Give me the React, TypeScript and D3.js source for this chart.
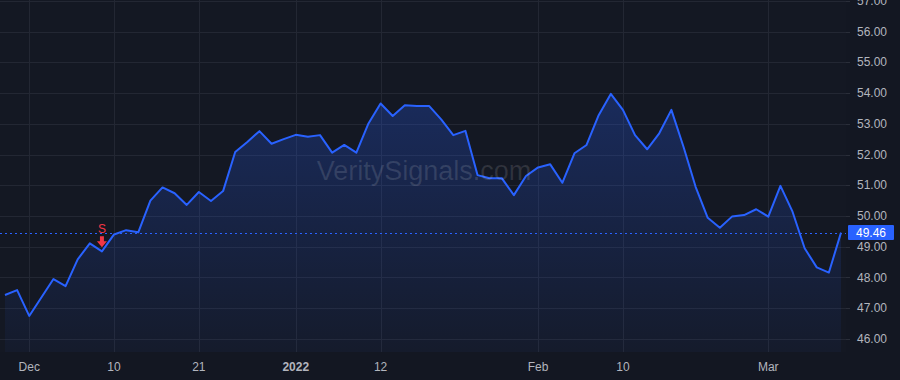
import React from "react";
import * as d3 from "d3";

const dates: string[] = [
  "2021-11-29", "2021-11-30", "2021-12-01", "2021-12-02", "2021-12-03", "2021-12-06", "2021-12-07", "2021-12-08", "2021-12-09", "2021-12-10",
  "2021-12-13", "2021-12-14", "2021-12-15", "2021-12-16", "2021-12-17", "2021-12-20", "2021-12-21", "2021-12-22", "2021-12-23", "2021-12-27",
  "2021-12-28", "2021-12-29", "2021-12-30", "2021-12-31", "2022-01-03", "2022-01-04", "2022-01-05", "2022-01-06", "2022-01-07", "2022-01-10",
  "2022-01-11", "2022-01-12", "2022-01-13", "2022-01-14", "2022-01-18", "2022-01-19", "2022-01-20", "2022-01-21", "2022-01-24", "2022-01-25",
  "2022-01-26", "2022-01-27", "2022-01-28", "2022-01-31", "2022-02-01", "2022-02-02", "2022-02-03", "2022-02-04", "2022-02-07", "2022-02-08",
  "2022-02-09", "2022-02-10", "2022-02-11", "2022-02-14", "2022-02-15", "2022-02-16", "2022-02-17", "2022-02-18", "2022-02-22", "2022-02-23",
  "2022-02-24", "2022-02-25", "2022-02-28", "2022-03-01", "2022-03-02", "2022-03-03", "2022-03-04", "2022-03-07", "2022-03-08", "2022-03-09",
];

const values: number[] = [
  47.43, 47.59, 46.75, 47.35, 47.95, 47.72, 48.59, 49.11, 48.85, 49.40,
  49.54, 49.47, 50.50, 50.93, 50.74, 50.36, 50.78, 50.49, 50.81, 52.08,
  52.41, 52.76, 52.35, 52.50, 52.64, 52.58, 52.63, 52.06, 52.31, 52.06,
  53.01, 53.66, 53.25, 53.60, 53.58, 53.58, 53.14, 52.63, 52.77, 51.33,
  51.23, 51.23, 50.68, 51.30, 51.58, 51.68, 51.08, 52.04, 52.31, 53.28,
  53.97, 53.45, 52.63, 52.17, 52.69, 53.45, 52.25, 50.95, 49.94, 49.62,
  49.98, 50.03, 50.22, 49.98, 50.98, 50.14, 48.95, 48.33, 48.16, 49.46,
];

const xTickDates: string[] = ["2021-12-01", "2021-12-10", "2021-12-21", "2022-01-03", "2022-01-12", "2022-02-01", "2022-02-10", "2022-03-01"];
const xTickLabels: string[] = ["Dec", "10", "21", "2022", "12", "Feb", "10", "Mar"];
const xTickBold: boolean[] = [false, false, false, true, false, false, false, false];

const yTicks: number[] = [46, 47, 48, 49, 50, 51, 52, 53, 54, 55, 56, 57];

const signalDate = "2021-12-09";
const signalLabel = "S";
const lastValue = 49.46;
const watermark = "VeritySignals.com";

const W = 900;
const H = 380;
const plotRight = 846;
const plotBottom = 352;
const font = "'Liberation Sans', Arial, sans-serif";

export default function App() {
  const x = d3.scalePoint<string>().domain(dates).range([5, 841]);
  const y = d3.scaleLinear().domain([46, 57]).range([339, 0.75]);

  const pts = dates.map((d, i) => ({ d, v: values[i] }));
  const line = d3
    .line<{ d: string; v: number }>()
    .x((p) => x(p.d)!)
    .y((p) => y(p.v));
  const area = d3
    .area<{ d: string; v: number }>()
    .x((p) => x(p.d)!)
    .y0(plotBottom)
    .y1((p) => y(p.v));

  const sIdx = dates.indexOf(signalDate);
  const sx = x(signalDate)!;
  const sy = y(values[sIdx]);
  const ly = y(lastValue);

  return (
    <svg
      width={W}
      height={H}
      style={{ position: "absolute", left: 0, top: 0, display: "block" }}
    >
      <defs>
        <linearGradient id="fillGrad" gradientUnits="userSpaceOnUse" x1="0" y1={y(54)} x2="0" y2={plotBottom}>
          <stop offset="0" stopColor="#2962ff" stopOpacity={0.26} />
          <stop offset="1" stopColor="#2962ff" stopOpacity={0.04} />
        </linearGradient>
        <clipPath id="plotClip">
          <rect x={0} y={0} width={plotRight} height={plotBottom} />
        </clipPath>
      </defs>
      <rect x={0} y={0} width={W} height={H} fill="#131722" />
      <rect x={0} y={0} width={plotRight} height={plotBottom} fill="#141823" />

      <g clipPath="url(#plotClip)">
        {yTicks.map((t) => (
          <line key={"gy" + t} x1={0} x2={plotRight} y1={Math.round(y(t)) + 0.5} y2={Math.round(y(t)) + 0.5} stroke="#232733" strokeWidth={1} />
        ))}
        {xTickDates.map((d) => (
          <line key={"gx" + d} x1={Math.round(x(d)!) + 0.5} x2={Math.round(x(d)!) + 0.5} y1={0} y2={plotBottom} stroke="#232733" strokeWidth={1} />
        ))}
        <path d={area(pts)!} fill="url(#fillGrad)" />
        <line x1={0} x2={plotRight} y1={Math.round(ly) + 0.5} y2={Math.round(ly) + 0.5} stroke="#2962ff" strokeWidth={1} strokeDasharray="2 3" />
        <path d={line(pts)!} fill="none" stroke="#2962ff" strokeWidth={2} strokeLinejoin="round" />
        <text x={watermark ? 424 : 0} y={180} textAnchor="middle" fontFamily={font} fontSize={27} fill="#ffffff" fillOpacity={0.12}>
          {watermark}
        </text>
        <text x={sx} y={233} textAnchor="middle" fontFamily={font} fontSize={12} fill="#f23645">
          {signalLabel}
        </text>
        <path
          d={`M${sx - 2},${sy - 15} L${sx + 2},${sy - 15} L${sx + 2},${sy - 10} L${sx + 5},${sy - 10} L${sx},${sy - 4} L${sx - 5},${sy - 10} L${sx - 2},${sy - 10} Z`}
          fill="#f23645"
        />
      </g>

      {yTicks.map((t) => (
        <g key={"ty" + t}>
          <line x1={plotRight} x2={plotRight + 4} y1={Math.round(y(t)) + 0.5} y2={Math.round(y(t)) + 0.5} stroke="#2a2e39" />
          <text x={857} y={y(t)} dy="0.35em" fontFamily={font} fontSize={12} fill="#b2b5be">
            {t.toFixed(2)}
          </text>
        </g>
      ))}

      <rect x={848} y={ly - 7.5} width={46} height={15} fill="#2962ff" rx={1} />
      <text x={871} y={ly} dy="0.35em" textAnchor="middle" fontFamily={font} fontSize={12} fill="#ffffff">
        {lastValue.toFixed(2)}
      </text>

      {xTickDates.map((d, i) => (
        <text
          key={"tx" + d}
          x={x(d)!}
          y={367}
          dy="0.35em"
          textAnchor="middle"
          fontFamily={font}
          fontSize={12}
          fontWeight={xTickBold[i] ? 700 : 400}
          fill="#b2b5be"
        >
          {xTickLabels[i]}
        </text>
      ))}
    </svg>
  );
}
